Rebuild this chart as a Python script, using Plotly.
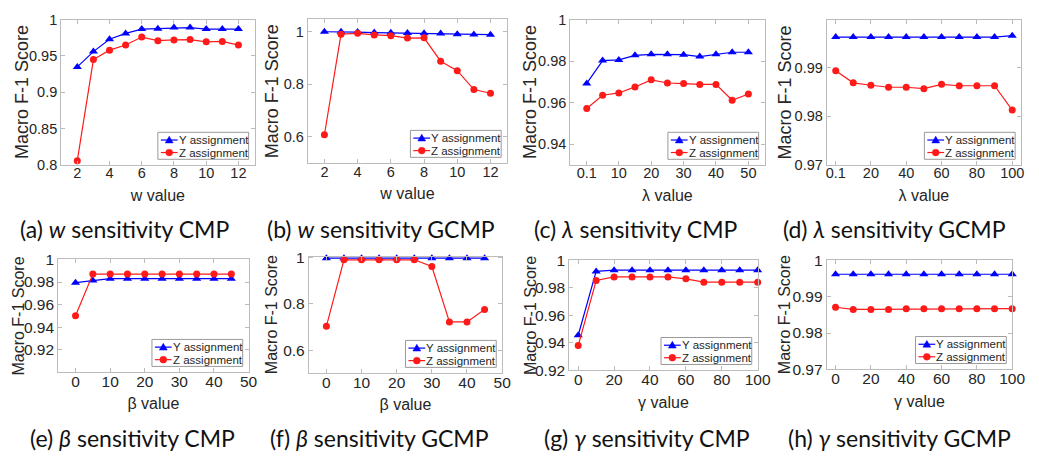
import plotly.graph_objects as go

W, H = 1039, 464

# ---------------- data ----------------
w_vals = [2, 3, 4, 5, 6, 7, 8, 9, 10, 11, 12]
a_Y = [0.935, 0.956, 0.973, 0.981, 0.987, 0.9875, 0.989, 0.989, 0.987, 0.987, 0.987]
a_Z = [0.806, 0.945, 0.958, 0.965, 0.976, 0.971, 0.972, 0.9725, 0.9695, 0.970, 0.965]

b_Y = [1.0, 1.0, 0.999, 0.997, 0.996, 0.995, 0.994, 0.993, 0.991, 0.990, 0.989]
b_Z = [0.608, 0.991, 0.994, 0.988, 0.985, 0.976, 0.977, 0.888, 0.852, 0.780, 0.766]

lam_c = [0.1, 5, 10, 15, 20, 25, 30, 35, 40, 45, 50]
c_Y = [0.9693, 0.9803, 0.9806, 0.9828, 0.9833, 0.9833, 0.9831, 0.9822, 0.9833, 0.9843, 0.9843]
c_Z = [0.9572, 0.9636, 0.9647, 0.9676, 0.9710, 0.9695, 0.9692, 0.9688, 0.9688, 0.9612, 0.9642]

lam_d = [0.1, 10, 20, 30, 40, 50, 60, 70, 80, 90, 100]
d_Y = [0.9963, 0.9963, 0.9963, 0.9963, 0.9963, 0.9963, 0.9963, 0.9963, 0.9963, 0.9963, 0.9966]
d_Z = [0.9894, 0.9869, 0.9864, 0.9860, 0.9860, 0.9857, 0.9866, 0.9863, 0.9863, 0.9863, 0.9813]

beta_vals = [0, 5, 10, 15, 20, 25, 30, 35, 40, 45]
e_Y = [0.9794, 0.9814, 0.983, 0.983, 0.983, 0.983, 0.983, 0.983, 0.983, 0.983]
e_Z = [0.950, 0.987, 0.987, 0.987, 0.987, 0.987, 0.987, 0.987, 0.987, 0.987]

f_Y = [0.998, 0.998, 0.998, 0.998, 0.998, 0.998, 0.998, 0.998, 0.998, 0.998]
f_Z = [0.703, 0.991, 0.991, 0.991, 0.991, 0.991, 0.962, 0.722, 0.722, 0.776]

gamma_vals = [0, 10, 20, 30, 40, 50, 60, 70, 80, 90, 100]
g_Y = [0.9455, 0.992, 0.9929, 0.9929, 0.9929, 0.9929, 0.9929, 0.9929, 0.9929, 0.9929, 0.9929]
g_Z = [0.938, 0.9854, 0.988, 0.988, 0.988, 0.988, 0.9866, 0.9842, 0.9842, 0.9842, 0.9842]

h_Y = [0.9962] * 11
h_Z = [0.9871, 0.9865, 0.9865, 0.9865, 0.9867, 0.9867, 0.9867, 0.9867, 0.9867, 0.9867, 0.9867]

series_names = ["Y assignment", "Z assignment"]
y_title = "Macro F-1 Score"
x_titles = ["w value", "w value", "λ value", "λ value", "β value", "β value", "γ value", "γ value"]
captions = ["(a) <i>w</i> sensitivity CMP", "(b) <i>w</i> sensitivity GCMP",
            "(c) <i>λ</i> sensitivity CMP", "(d) <i>λ</i> sensitivity GCMP",
            "(e) <i>β</i> sensitivity CMP", "(f) <i>β</i> sensitivity GCMP",
            "(g) <i>γ</i> sensitivity CMP", "(h) <i>γ</i> sensitivity GCMP"]

x_data = [w_vals, w_vals, lam_c, lam_d, beta_vals, beta_vals, gamma_vals, gamma_vals]
Y_data = [a_Y, b_Y, c_Y, d_Y, e_Y, f_Y, g_Y, h_Y]
Z_data = [a_Z, b_Z, c_Z, d_Z, e_Z, f_Z, g_Z, h_Z]

x_tickvals = [[2, 4, 6, 8, 10, 12], [2, 4, 6, 8, 10, 12],
              [0.1, 10, 20, 30, 40, 50], [0.1, 20, 40, 60, 80, 100],
              [0, 10, 20, 30, 40, 50], [0, 10, 20, 30, 40, 50],
              [0, 20, 40, 60, 80, 100], [0, 20, 40, 60, 80, 100]]
x_ticktext = [["2", "4", "6", "8", "10", "12"], ["2", "4", "6", "8", "10", "12"],
              ["0.1", "10", "20", "30", "40", "50"], ["0.1", "20", "40", "60", "80", "100"],
              ["0", "10", "20", "30", "40", "50"], ["0", "10", "20", "30", "40", "50"],
              ["0", "20", "40", "60", "80", "100"], ["0", "20", "40", "60", "80", "100"]]
y_tickvals = [[0.8, 0.85, 0.9, 0.95, 1.0], [0.6, 0.8, 1.0], [0.94, 0.96, 0.98, 1.0],
              [0.97, 0.98, 0.99], [0.92, 0.94, 0.96, 0.98, 1.0], [0.6, 0.8, 1.0],
              [0.92, 0.94, 0.96, 0.98, 1.0], [0.97, 0.98, 0.99, 1.0]]
y_ticktext = [["0.8", "0.85", "0.9", "0.95", "1"], ["0.6", "0.8", "1"], ["0.94", "0.96", "0.98", "1"],
              ["0.97", "0.98", "0.99"], ["0.92", "0.94", "0.96", "0.98", "1"], ["0.6", "0.8", "1"],
              ["0.92", "0.94", "0.96", "0.98", "1"], ["0.97", "0.98", "0.99", "1"]]

# ---------------- layout / style ----------------
x_ranges = [[1, 13], [1, 13], [-5, 55], [-5, 105], [-5, 50], [-5, 50], [-5, 100], [-5, 100]]
y_ranges = [[0.8, 1.0], [0.5, 1.05], [0.93, 1.0], [0.97, 0.9999], [0.90, 1.0], [0.5, 1.005],
            [0.92, 1.0], [0.97, 1.0]]
# box pixel extents: (left, right, top, bottom)
boxes_px = [(61, 257, 11, 162), (311, 513, 10, 160), (577, 774, 11, 162), (837, 1034, 11, 162),
            (58, 251, 260, 377), (312, 508, 257, 378), (576, 767, 261, 375), (837, 1025, 261, 374)]
caption_px = [(125, 228), (385, 228), (644, 228), (906, 228),
              (133, 445), (384, 445), (655, 445), (911, 445)]
ytitle_x_px = [22, 275, 537, 795, 18, 275, 537, 795]

BLUE = "#0000ff"
RED = "#ff1a1a"
AX = "#bcbcbc"
TXT = "#262626"
FONT = "Liberation Sans, Arial, sans-serif"


def px(x):
    return x / W


def py(y):
    return 1 - y / H


fig = go.Figure()
annotations = []
shapes = []
layout = dict(
    width=W, height=H, margin=dict(l=0, r=0, t=0, b=0),
    paper_bgcolor="white", plot_bgcolor="white",
    font=dict(family=FONT, color=TXT, size=14),
    showlegend=False,
)

for i in range(8):
    n = "" if i == 0 else str(i + 1)
    xa, ya = "x" + n, "y" + n
    l, r, t, b = boxes_px[i]
    row2 = i >= 4
    fig.add_trace(go.Scatter(
        x=x_data[i], y=Y_data[i], name=series_names[0], mode="lines+markers",
        line=dict(color=BLUE, width=1.2),
        marker=dict(symbol="triangle-up", size=8, color=BLUE),
        xaxis=xa, yaxis=ya, cliponaxis=False))
    fig.add_trace(go.Scatter(
        x=x_data[i], y=Z_data[i], name=series_names[1], mode="lines+markers",
        line=dict(color=RED, width=1.2),
        marker=dict(symbol="circle", size=7, color=RED),
        xaxis=xa, yaxis=ya, cliponaxis=False))

    tsize = 15.5 if row2 else 14.5
    layout["xaxis" + n] = dict(
        domain=[px(l), px(r)], anchor=ya, range=x_ranges[i],
        tickvals=x_tickvals[i], ticktext=x_ticktext[i],
        showline=True, linecolor=AX, linewidth=1, mirror="ticks",
        ticks="inside", ticklen=4, tickcolor=AX, showgrid=False, zeroline=False,
        tickfont=dict(size=tsize, color=TXT), ticklabelstandoff=-5,
        title=dict(text=x_titles[i], font=dict(size=16, color=TXT), standoff=9),
    )
    layout["yaxis" + n] = dict(
        domain=[py(b), py(t)], anchor=xa, range=y_ranges[i],
        tickvals=y_tickvals[i], ticktext=y_ticktext[i],
        showline=True, linecolor=AX, linewidth=1, mirror="ticks",
        ticks="inside", ticklen=4, tickcolor=AX, showgrid=False, zeroline=False,
        tickfont=dict(size=tsize, color=TXT),
    )
    # y-axis title
    annotations.append(dict(
        text=y_title, x=px(ytitle_x_px[i]), y=py((t + b) / 2), xref="paper", yref="paper",
        xanchor="center", yanchor="middle", textangle=-90, showarrow=False,
        font=dict(size=16 if row2 else 18, color=TXT, family=FONT)))

    # legend box (bottom-right inside the axes)
    lr, lb = r - 6, b - 6
    ll, lt = lr - 92, lb - 28
    shapes.append(dict(type="rect", xref="paper", yref="paper",
                       x0=px(ll), x1=px(lr), y0=py(lb), y1=py(lt),
                       line=dict(color="#9a9a9a", width=1), fillcolor="white", layer="above"))
    rows = [(lt + 8, BLUE, "triangle"), (lt + 21, RED, "circle")]
    for (ry, col, sym), name in zip(rows, series_names):
        shapes.append(dict(type="line", xref="paper", yref="paper",
                           x0=px(ll + 3), x1=px(ll + 20), y0=py(ry), y1=py(ry),
                           line=dict(color=col, width=1.2), layer="above"))
        cx = ll + 11.5
        if sym == "triangle":
            path = "M {:.5f},{:.5f} L {:.5f},{:.5f} L {:.5f},{:.5f} Z".format(
                px(cx - 4), py(ry + 3), px(cx + 4), py(ry + 3), px(cx), py(ry - 4))
            shapes.append(dict(type="path", xref="paper", yref="paper", path=path,
                               fillcolor=col, line=dict(color=col, width=0.5), layer="above"))
        else:
            shapes.append(dict(type="circle", xref="paper", yref="paper",
                               x0=px(cx - 3.5), x1=px(cx + 3.5), y0=py(ry + 3.5), y1=py(ry - 3.5),
                               fillcolor=col, line=dict(color=col, width=0.5), layer="above"))
        annotations.append(dict(
            text=name, x=px(ll + 19), y=py(ry), xref="paper", yref="paper",
            xanchor="left", yanchor="middle", showarrow=False,
            font=dict(size=11.5, color=TXT, family=FONT)))

    cx, cy = caption_px[i]
    annotations.append(dict(
        text=captions[i], x=px(cx), y=py(cy), xref="paper", yref="paper",
        xanchor="center", yanchor="middle", showarrow=False,
        font=dict(family="Lato, 'Noto Sans', sans-serif", size=23, color="#111111"),
    ))

layout["annotations"] = annotations
layout["shapes"] = shapes
fig.update_layout(**layout)
fig.write_html("out.html")
